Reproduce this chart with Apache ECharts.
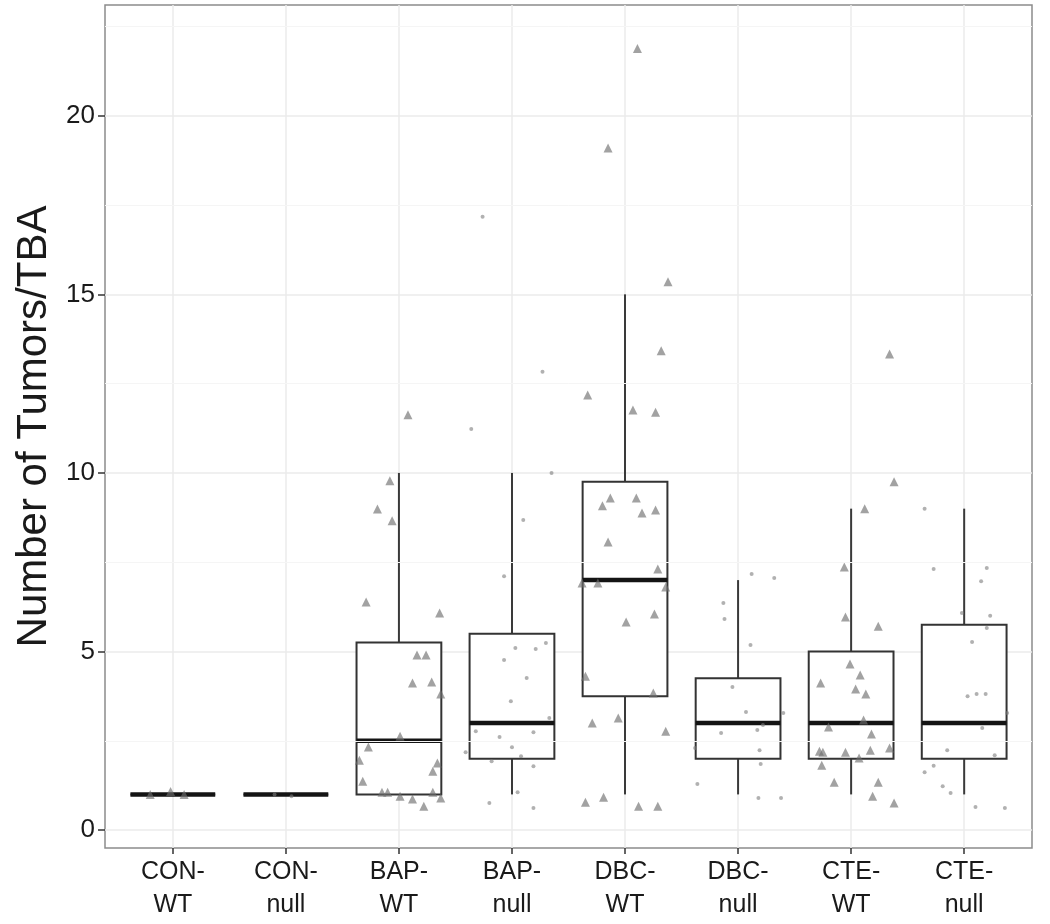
<!DOCTYPE html>
<html><head><meta charset="utf-8">
<script src="https://cdn.jsdelivr.net/npm/echarts@6/dist/echarts.min.js"></script>
<style>html,body{margin:0;padding:0;background:#fff}#c{width:1050px;height:924px}</style>
</head><body><div id="c"></div>
<script>
// ---- data ----
const categories = ['CON-\nWT','CON-\nnull','BAP-\nWT','BAP-\nnull','DBC-\nWT','DBC-\nnull','CTE-\nWT','CTE-\nnull'];
// [min, Q1, median, Q3, max] per category
const boxStats = [
  [1, 1, 1, 1, 1],
  [1, 1, 1, 1, 1],
  [1, 1, 2.5, 5.25, 10],
  [1, 2, 3, 5.5, 10],
  [1, 3.75, 7, 9.75, 15],
  [1, 2, 3, 4.25, 7],
  [1, 2, 3, 5, 9],
  [1, 2, 3, 5.75, 9]
];
const yTicks = [0, 5, 10, 15, 20];
const yMinor = [2.5, 7.5, 12.5, 17.5, 22.5];
// jittered observations: [horizontal jitter, value]
const ptsConWT = [[-0.02,1.08],[0.10,1.0],[-0.20,1.0]];
const ptsConNull = [[0.05,0.95],[-0.10,1.0]];
const ptsBapWT = [[0.08,11.63],[-0.08,9.78],[-0.19,8.99],[-0.06,8.66],[-0.29,6.39],[0.36,6.08],[0.16,4.90],[0.24,4.90],[0.12,4.12],[0.29,4.15],[0.37,3.81],[0.01,2.63],[-0.27,2.33],[-0.35,1.96],[0.34,1.88],[0.30,1.65],[-0.32,1.37],[-0.15,1.06],[-0.10,1.06],[0.01,0.95],[0.12,0.87],[0.22,0.67],[0.30,1.06],[0.37,0.90]];
const ptsBapNull = [[0.27,12.83],[-0.36,11.23],[0.35,10.0],[0.10,8.68],[-0.07,7.11],[0.03,5.10],[0.21,5.07],[0.30,5.24],[-0.07,4.76],[0.13,4.26],[-0.01,3.61],[0.33,3.14],[-0.32,2.77],[-0.11,2.61],[0.19,2.74],[0.00,2.32],[-0.41,2.18],[0.08,2.07],[-0.18,1.93],[0.19,1.79],[0.05,1.06],[-0.20,0.76],[0.19,0.62],[-0.26,17.17]];
const ptsDbcWT = [[0.11,21.88],[-0.15,19.10],[0.38,15.35],[0.32,13.42],[-0.33,12.18],[0.07,11.76],[0.27,11.70],[-0.13,9.30],[-0.20,9.08],[0.10,9.30],[0.15,8.88],[0.27,8.96],[-0.15,8.07],[0.29,7.31],[-0.38,6.92],[-0.24,6.92],[0.36,6.81],[0.26,6.05],[0.01,5.83],[-0.35,4.31],[0.25,3.84],[-0.29,3.0],[-0.06,3.14],[0.36,2.77],[-0.35,0.78],[-0.19,0.92],[0.12,0.67],[0.29,0.67]];
const ptsDbcNull = [[0.12,7.17],[0.32,7.06],[-0.13,6.36],[-0.12,5.91],[0.11,5.18],[-0.05,4.01],[0.07,3.31],[-0.15,2.72],[0.17,2.80],[0.22,2.94],[-0.38,2.30],[0.19,2.24],[0.20,1.85],[-0.36,1.29],[0.18,0.90],[0.38,0.90],[0.40,3.28]];
const ptsCteWT = [[0.34,13.33],[0.38,9.75],[0.12,9.0],[-0.06,7.37],[-0.05,5.97],[0.24,5.71],[-0.01,4.65],[0.08,4.34],[-0.27,4.12],[0.04,3.95],[0.13,3.81],[0.11,3.08],[-0.20,2.89],[0.18,2.69],[-0.28,2.21],[-0.25,2.18],[-0.05,2.18],[0.17,2.24],[0.34,2.30],[0.07,2.02],[-0.26,1.82],[-0.15,1.34],[0.24,1.34],[0.19,0.95],[0.38,0.76]];
const ptsCteNull = [[-0.35,9.0],[-0.27,7.31],[0.20,7.34],[0.15,6.97],[-0.02,6.08],[0.23,6.0],[0.20,5.66],[0.07,5.27],[0.03,3.75],[0.11,3.81],[0.19,3.81],[0.38,3.28],[0.16,2.86],[-0.15,2.24],[0.27,2.10],[-0.27,1.80],[-0.35,1.62],[-0.19,1.23],[-0.12,1.04],[0.10,0.65],[0.36,0.62]];
const groupPoints = [ptsConWT, ptsConNull, ptsBapWT, ptsBapNull, ptsDbcWT, ptsDbcNull, ptsCteWT, ptsCteNull];

// ---- build ----
const catIdx = categories.map((c, i) => i);
const boxData = boxStats.map((s, i) => [i].concat(s));
const triData = [], dotData = [];
groupPoints.forEach((pts, i) => {
  pts.forEach(p => (i % 2 === 0 ? triData : dotData).push([i + p[0], p[1]]));
});

const FONT = '"Liberation Sans", Arial, Helvetica, sans-serif';
const chart = echarts.init(document.getElementById('c'), null, {renderer: 'canvas'});
chart.setOption({
  backgroundColor: '#ffffff',
  animation: false,
  grid: {left: 105, right: 18, top: 5, bottom: 76, show: true, borderColor: '#8c8c8c', borderWidth: 1.5, backgroundColor: '#ffffff'},
  xAxis: {
    type: 'value', min: -0.6, max: 7.6,
    axisLine: {show: false, onZero: false},
    axisTick: {show: true, customValues: catIdx, length: 6, lineStyle: {color: '#333', width: 1.5}},
    axisLabel: {customValues: catIdx, formatter: v => categories[Math.round(v)], fontFamily: FONT, fontSize: 25, lineHeight: 33, color: '#1a1a1a', margin: 8},
    splitLine: {show: true, lineStyle: {color: '#ebebeb', width: 1.5}}
  },
  yAxis: {
    type: 'value', min: -0.5, max: 23.1,
    name: 'Number of Tumors/TBA', nameLocation: 'middle', nameGap: 44,
    nameTextStyle: {fontFamily: FONT, fontSize: 42, color: '#1a1a1a'},
    axisLine: {show: false, onZero: false},
    axisTick: {show: true, customValues: yTicks, length: 7, lineStyle: {color: '#333', width: 1.5}},
    axisLabel: {customValues: yTicks, fontFamily: FONT, fontSize: 26, color: '#1a1a1a', margin: 10},
    splitLine: {show: true, lineStyle: {color: '#ebebeb', width: 1.5}}
  },
  series: [
    {
      type: 'custom', z: 2,
      data: boxData,
      encode: {x: 0, y: [1, 2, 3, 4, 5]},
      markLine: {
        silent: true, symbol: 'none', label: {show: false},
        lineStyle: {color: '#f5f5f5', width: 1, type: 'solid'},
        data: yMinor.map(v => ({yAxis: v}))
      },
      renderItem: function (params, api) {
        const x = api.value(0);
        const pMin = api.coord([x, api.value(1)]);
        const pQ1 = api.coord([x, api.value(2)]);
        const pMd = api.coord([x, api.value(3)]);
        const pQ3 = api.coord([x, api.value(4)]);
        const pMax = api.coord([x, api.value(5)]);
        const hw = api.size([0.375, 0])[0];
        const ls = {stroke: '#3a3a3a', lineWidth: 2};
        return {type: 'group', children: [
          {type: 'line', shape: {x1: pMin[0], y1: pMin[1], x2: pQ1[0], y2: pQ1[1]}, style: ls},
          {type: 'line', shape: {x1: pQ3[0], y1: pQ3[1], x2: pMax[0], y2: pMax[1]}, style: ls},
          {type: 'rect', shape: {x: pQ1[0] - hw, y: pQ3[1], width: 2 * hw, height: pQ1[1] - pQ3[1]}, style: {fill: '#ffffff', stroke: '#333333', lineWidth: 2}},
          {type: 'line', shape: {x1: pMd[0] - hw, y1: pMd[1], x2: pMd[0] + hw, y2: pMd[1]}, style: {stroke: '#141414', lineWidth: 4.5}}
        ]};
      }
    },
    {
      type: 'scatter', z: 3, symbol: 'triangle', symbolSize: 9,
      itemStyle: {color: 'rgba(110,110,110,0.8)'},
      data: triData
    },
    {
      type: 'scatter', z: 3, symbol: 'circle', symbolSize: 4,
      itemStyle: {color: 'rgba(125,125,125,0.75)'},
      data: dotData
    }
  ]
});
</script>
</body></html>
